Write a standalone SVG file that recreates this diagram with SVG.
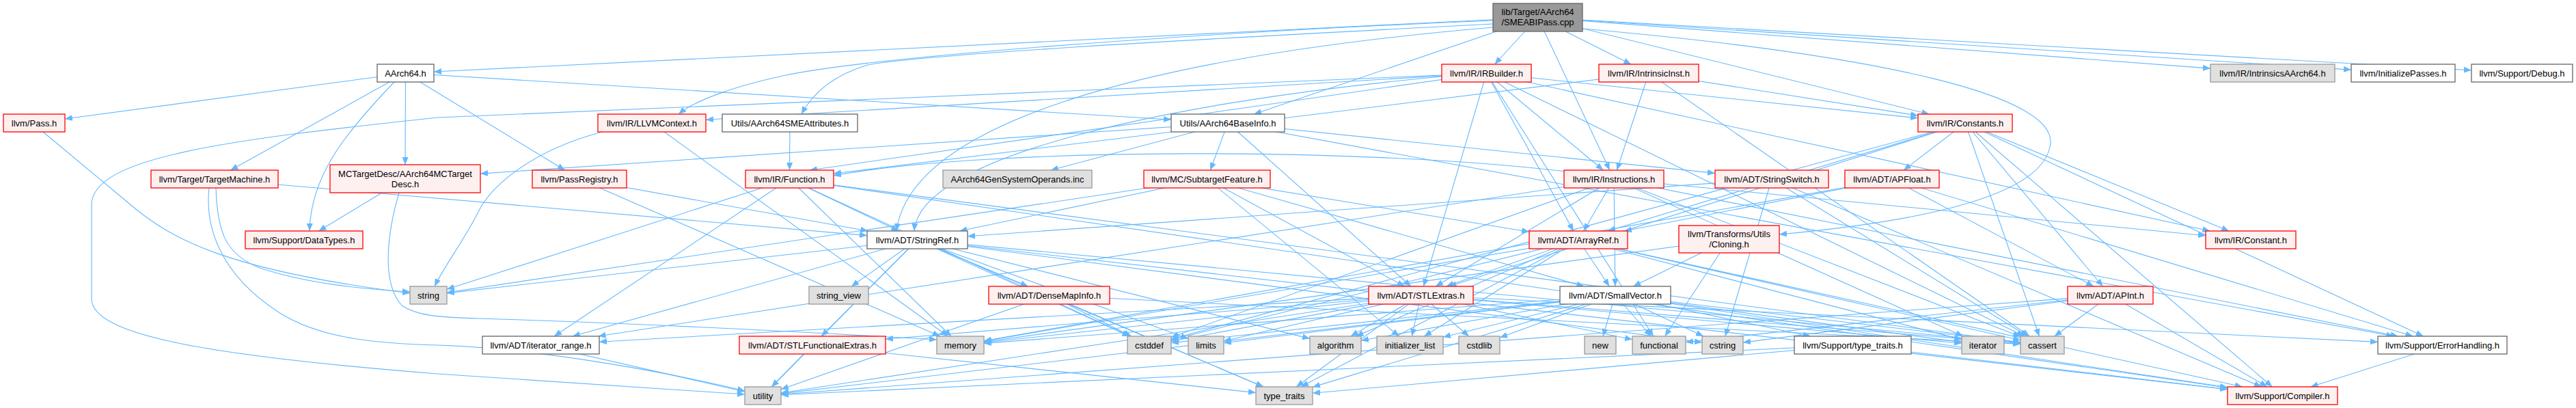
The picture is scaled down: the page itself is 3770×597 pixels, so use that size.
<svg xmlns="http://www.w3.org/2000/svg" width="3770" height="597" viewBox="0 0 3770 597">
<style>
.e path{fill:none;stroke:#63b8ff;stroke-width:1.1;marker-end:url(#ah)}
.n rect{stroke-width:1.3}
.red rect{fill:#fff0f0;stroke:#ff0000}
.wht rect{fill:#ffffff;stroke:#666666}
.gry rect{fill:#e0e0e0;stroke:#999999}
.root rect{fill:#999999;stroke:#666666}
text{font-family:"Liberation Sans",Arial,Helvetica,sans-serif;font-size:13px;fill:#000000;text-anchor:middle}
</style>
<defs>
<marker id="ah" viewBox="0 0 11 9" refX="11" refY="4.5" markerWidth="11" markerHeight="9" markerUnits="userSpaceOnUse" orient="auto"><path d="M0,0 L11,4.5 L0,9 z" fill="#63b8ff"/></marker>
</defs>
<rect width="3770" height="597" fill="#ffffff"/>
<g id="connectors" class="e">
<path d="M2250.5,25.5 L635,105"/>
<path d="M2250.5,25.5 L1835.2,167"/>
<path d="M2185,35 C1700,60 1350,80 1270,95 C1220,110 1190,135 1173,167"/>
<path d="M2185,40 C1600,90 1330,200 1312,338"/>
<path d="M2250.5,25.5 L2823.4,167"/>
<path d="M2250.5,25.5 L2187.5,94"/>
<path d="M2250.5,25.5 L2355.9,249"/>
<path d="M2250.5,25.5 L2387.1,94"/>
<path d="M2250.5,25.5 L3235,100.1"/>
<path d="M2185,30 C1700,50 1270,85 1150,110 C1080,125 1020,145 993,167"/>
<path d="M2250.5,25.5 L3441,102.1"/>
<path d="M2250.5,25.5 L3617,102.8"/>
<path d="M2316,42 C2750,80 3020,140 3000,215 C2985,290 2800,325 2604,343"/>
<path d="M593.5,107 L95,174"/>
<path d="M593.5,107 L337.4,249"/>
<path d="M577,120 C500,200 455,260 453,338"/>
<path d="M593.5,107 L593,241"/>
<path d="M593.5,107 L826.7,249"/>
<path d="M593.5,107 L1714,175"/>
<path d="M593,261.5 L466.5,338"/>
<path d="M584,282 C570,330 555,410 588,447 C610,462 640,464 700,466 C1000,475 1250,490 1371,497"/>
<path d="M1797,180 L703,254.1"/>
<path d="M1797,180 L1537.8,249"/>
<path d="M1797,180 L1771.3,249"/>
<path d="M1797,180 L2064.9,419"/>
<path d="M1797,180 L2510,253.4"/>
<path d="M1797,180 L3503.4,492"/>
<path d="M314,262 L1269,344.6"/>
<path d="M316,275 C318,340 330,372 380,392 C450,415 530,423 600,427"/>
<path d="M306,275 C300,330 320,400 408,457 C470,497 560,503 640,505 C800,510 1000,550 1090,572"/>
<path d="M63,193 L188,297 C250,350 330,395 600,429"/>
<path d="M848,262 L1270.3,338"/>
<path d="M848,262 L1375.7,492"/>
<path d="M881,193 C780,220 720,270 700,310 C680,350 650,390 636,419"/>
<path d="M954,180 L1387.4,492"/>
<path d="M1156,180 L1155.5,249"/>
<path d="M1155.5,262 L811,492"/>
<path d="M1155.5,262 L1315.2,338"/>
<path d="M1155.5,262 L654,423.3"/>
<path d="M1155.5,262 L1392.1,492"/>
<path d="M1155.5,262 L1653.8,492"/>
<path d="M1155.5,262 L2957,500.8"/>
<path d="M1155.5,262 L3260,567.3"/>
<path d="M1342.5,351 L1504.5,419"/>
<path d="M1342.5,351 L1202,492"/>
<path d="M1342.5,351 L838,492"/>
<path d="M1342.5,351 L3260,569.8"/>
<path d="M1342.5,351 L1917,495.6"/>
<path d="M1342.5,351 L2957,502"/>
<path d="M1342.5,351 L1653.3,492"/>
<path d="M1342.5,351 L2491,501.1"/>
<path d="M1342.5,351 L1739,495.5"/>
<path d="M1342.5,351 L654,428.9"/>
<path d="M1342.5,351 L1246,419"/>
<path d="M1342.5,351 L1848.9,566"/>
<path d="M1342.5,351 L1129.4,566"/>
<path d="M1535.5,432 L2957,503.4"/>
<path d="M1535.5,432 L1655.9,492"/>
<path d="M1535.5,432 L1849.1,566"/>
<path d="M1535.5,432 L1143,569.7"/>
<path d="M1189,505 L1838,574.6"/>
<path d="M1189,505 L1129.2,566"/>
<path d="M791.5,505 L1090,573"/>
<path d="M2079.5,432 L1296,496.2"/>
<path d="M2079.5,432 L877,500.2"/>
<path d="M2079.5,432 L3480,500.4"/>
<path d="M2079.5,432 L1976.8,492"/>
<path d="M2079.5,432 L2957,502.4"/>
<path d="M2079.5,432 L1714,499.1"/>
<path d="M2079.5,432 L2149.8,492"/>
<path d="M2079.5,432 L2389,496.8"/>
<path d="M2079.5,432 L2066.3,492"/>
<path d="M2079.5,432 L2871,502.2"/>
<path d="M2079.5,432 L1791,499"/>
<path d="M2079.5,432 L1440,501.3"/>
<path d="M2079.5,432 L1897.2,566"/>
<path d="M2079.5,432 L1143,575"/>
<path d="M2364,432 L3260,566.9"/>
<path d="M2364,432 L2649.6,492"/>
<path d="M2364,432 L1992,498.3"/>
<path d="M2364,432 L2957,501.3"/>
<path d="M2364,432 L1714,501.6"/>
<path d="M2364,432 L2195,494"/>
<path d="M2364,432 L2493,492"/>
<path d="M2364,432 L2416.6,492"/>
<path d="M2364,432 L2112,493.2"/>
<path d="M2364,432 L2871,500.8"/>
<path d="M2364,432 L1791,501.8"/>
<path d="M2364,432 L1440,502.4"/>
<path d="M2364,432 L2345.9,492"/>
<path d="M2364,432 L1921,566.4"/>
<path d="M2364,432 L1143,575.9"/>
<path d="M2310,351 L2355.3,419"/>
<path d="M2310,351 L2116.5,419"/>
<path d="M2310,351 L3281.7,566"/>
<path d="M2310,351 L1984.5,492"/>
<path d="M2310,351 L2957,497.7"/>
<path d="M2310,351 L1714,497.2"/>
<path d="M2310,351 L2084.3,492"/>
<path d="M2310,351 L2871,496.9"/>
<path d="M2310,351 L1440,499.1"/>
<path d="M2310,351 L1904,566"/>
<path d="M2711.5,505 L3260,569.5"/>
<path d="M2711.5,505 L1921,575.3"/>
<path d="M2711.5,505 L1143,577.8"/>
<path d="M3574.5,505 L3381.6,566"/>
<path d="M3088.5,432 L3318.2,566"/>
<path d="M3088.5,432 L3006.7,492"/>
<path d="M3088.5,432 L2551,501.1"/>
<path d="M3088.5,432 L2467,500.7"/>
<path d="M3088.5,432 L1143,577"/>
<path d="M2769,262 L3064.1,419"/>
<path d="M2769,262 L2377,338"/>
<path d="M2769,262 L3531.4,492"/>
<path d="M2769,262 L1440,498.9"/>
<path d="M2876,180 L2786,249"/>
<path d="M2876,180 L3077.5,419"/>
<path d="M2876,180 L2353,338"/>
<path d="M2876,180 L2120.6,419"/>
<path d="M2876,180 L3262.2,338"/>
<path d="M2876,180 L3325.4,566"/>
<path d="M2876,180 L3546.6,492"/>
<path d="M2876,180 L2984.5,492"/>
<path d="M2876,180 L1714,496.3"/>
<path d="M2593,262 L1416,345.8"/>
<path d="M2593,262 L3309.8,566"/>
<path d="M2593,262 L2967.8,492"/>
<path d="M2593,262 L2524.9,492"/>
<path d="M1766.5,262 L2238,339.2"/>
<path d="M1766.5,262 L2318.3,419"/>
<path d="M1766.5,262 L2055.6,419"/>
<path d="M1766.5,262 L1404.4,338"/>
<path d="M1766.5,262 L2047.6,492"/>
<path d="M1766.5,262 L654,428"/>
<path d="M2362,262 L2317.6,338"/>
<path d="M2362,262 L2101.1,419"/>
<path d="M2362,262 L2363.8,419"/>
<path d="M2362,262 L875.5,492"/>
<path d="M2362,262 L3228,344.7"/>
<path d="M2300,252 C2000,215 1450,215 1220,257"/>
<path d="M2362,262 L3509.6,492"/>
<path d="M2362,262 L2957,492.6"/>
<path d="M2362,262 L1714,493.6"/>
<path d="M2362,262 L2873.1,492"/>
<path d="M2413,107 L2807,169.1"/>
<path d="M2413,107 L1220,254"/>
<path d="M2413,107 L2366.3,249"/>
<path d="M2413,107 L2970.2,492"/>
<path d="M2175.5,107 L2302.8,338"/>
<path d="M2175.5,107 L2083.3,419"/>
<path d="M2110,112 C1700,150 1345,230 1338,338"/>
<path d="M2175.5,107 L3234.4,338"/>
<path d="M2175.5,107 L2807,172.8"/>
<path d="M2175.5,107 L1185,249"/>
<path d="M2175.5,107 L2346.4,249"/>
<path d="M2175.5,107 L1033,175.3"/>
<path d="M2175.5,107 L2962.4,492"/>
<path d="M2175.5,107 L2419.8,492"/>
<path d="M2110,110 L640,172 C330,205 134,230 134,300 L134,437 C134,490 300,520 640,547 L1090,577"/>
<path d="M2530.5,350 L2390.4,419"/>
<path d="M2530.5,350 L2436.6,492"/>
<path d="M2530.5,350 L1440,500.2"/>
</g>
<g id="n_root" class="n root"><rect x="2185" y="5" width="131" height="41"/><text x="2250.5" y="22">lib/Target/AArch64</text><text x="2250.5" y="37">/SMEABIPass.cpp</text></g>
<g id="n_aarch64" class="n wht"><rect x="552" y="94" width="83" height="26"/><text x="593.5" y="111.5">AArch64.h</text></g>
<g id="n_irbuilder" class="n red"><rect x="2110" y="94" width="131" height="26"/><text x="2175.5" y="111.5">llvm/IR/IRBuilder.h</text></g>
<g id="n_intrinsicinst" class="n red"><rect x="2340" y="94" width="146" height="26"/><text x="2413" y="111.5">llvm/IR/IntrinsicInst.h</text></g>
<g id="n_intrinsicsaarch64" class="n gry"><rect x="3235" y="94" width="182" height="26"/><text x="3326" y="111.5">llvm/IR/IntrinsicsAArch64.h</text></g>
<g id="n_initializepasses" class="n wht"><rect x="3441" y="94" width="152" height="26"/><text x="3517" y="111.5">llvm/InitializePasses.h</text></g>
<g id="n_debug" class="n wht"><rect x="3617" y="94" width="148" height="26"/><text x="3691" y="111.5">llvm/Support/Debug.h</text></g>
<g id="n_pass" class="n red"><rect x="5" y="167" width="90" height="26"/><text x="50" y="184.5">llvm/Pass.h</text></g>
<g id="n_llvmcontext" class="n red"><rect x="875" y="167" width="158" height="26"/><text x="954" y="184.5">llvm/IR/LLVMContext.h</text></g>
<g id="n_smeattributes" class="n wht"><rect x="1057" y="167" width="198" height="26"/><text x="1156" y="184.5">Utils/AArch64SMEAttributes.h</text></g>
<g id="n_baseinfo" class="n wht"><rect x="1714" y="167" width="166" height="26"/><text x="1797" y="184.5">Utils/AArch64BaseInfo.h</text></g>
<g id="n_constants" class="n red"><rect x="2807" y="167" width="138" height="26"/><text x="2876" y="184.5">llvm/IR/Constants.h</text></g>
<g id="n_targetmachine" class="n red"><rect x="221" y="249" width="186" height="26"/><text x="314" y="266.5">llvm/Target/TargetMachine.h</text></g>
<g id="n_mctargetdesc" class="n red"><rect x="483" y="241" width="220" height="41"/><text x="593" y="258.5">MCTargetDesc/AArch64MCTarget</text><text x="593" y="273.5">Desc.h</text></g>
<g id="n_passregistry" class="n red"><rect x="779" y="249" width="138" height="26"/><text x="848" y="266.5">llvm/PassRegistry.h</text></g>
<g id="n_function" class="n red"><rect x="1091" y="249" width="129" height="26"/><text x="1155.5" y="266.5">llvm/IR/Function.h</text></g>
<g id="n_gensysops" class="n gry"><rect x="1380" y="249" width="218" height="26"/><text x="1489" y="266.5">AArch64GenSystemOperands.inc</text></g>
<g id="n_subtargetfeature" class="n red"><rect x="1674" y="249" width="185" height="26"/><text x="1766.5" y="266.5">llvm/MC/SubtargetFeature.h</text></g>
<g id="n_instructions" class="n red"><rect x="2289" y="249" width="146" height="26"/><text x="2362" y="266.5">llvm/IR/Instructions.h</text></g>
<g id="n_stringswitch" class="n red"><rect x="2510" y="249" width="166" height="26"/><text x="2593" y="266.5">llvm/ADT/StringSwitch.h</text></g>
<g id="n_apfloat" class="n red"><rect x="2700" y="249" width="138" height="26"/><text x="2769" y="266.5">llvm/ADT/APFloat.h</text></g>
<g id="n_datatypes" class="n red"><rect x="359" y="338" width="172" height="26"/><text x="445" y="355.5">llvm/Support/DataTypes.h</text></g>
<g id="n_stringref" class="n wht"><rect x="1269" y="338" width="147" height="26"/><text x="1342.5" y="355.5">llvm/ADT/StringRef.h</text></g>
<g id="n_arrayref" class="n red"><rect x="2238" y="338" width="144" height="26"/><text x="2310" y="355.5">llvm/ADT/ArrayRef.h</text></g>
<g id="n_cloning" class="n red"><rect x="2457" y="330" width="147" height="40"/><text x="2530.5" y="347">llvm/Transforms/Utils</text><text x="2530.5" y="362">/Cloning.h</text></g>
<g id="n_constant" class="n red"><rect x="3228" y="338" width="132" height="26"/><text x="3294" y="355.5">llvm/IR/Constant.h</text></g>
<g id="n_string" class="n gry"><rect x="600" y="419" width="54" height="26"/><text x="627" y="436.5">string</text></g>
<g id="n_string_view" class="n gry"><rect x="1184" y="419" width="87" height="26"/><text x="1227.5" y="436.5">string_view</text></g>
<g id="n_densemapinfo" class="n red"><rect x="1447" y="419" width="177" height="26"/><text x="1535.5" y="436.5">llvm/ADT/DenseMapInfo.h</text></g>
<g id="n_stlextras" class="n red"><rect x="2003" y="419" width="153" height="26"/><text x="2079.5" y="436.5">llvm/ADT/STLExtras.h</text></g>
<g id="n_smallvector" class="n wht"><rect x="2283" y="419" width="162" height="26"/><text x="2364" y="436.5">llvm/ADT/SmallVector.h</text></g>
<g id="n_apint" class="n red"><rect x="3026" y="419" width="125" height="26"/><text x="3088.5" y="436.5">llvm/ADT/APInt.h</text></g>
<g id="n_iterator_range" class="n wht"><rect x="706" y="492" width="171" height="26"/><text x="791.5" y="509.5">llvm/ADT/iterator_range.h</text></g>
<g id="n_stlfunctionalextras" class="n red"><rect x="1082" y="492" width="214" height="26"/><text x="1189" y="509.5">llvm/ADT/STLFunctionalExtras.h</text></g>
<g id="n_memory" class="n gry"><rect x="1371" y="492" width="69" height="26"/><text x="1405.5" y="509.5">memory</text></g>
<g id="n_cstddef" class="n gry"><rect x="1650" y="492" width="64" height="26"/><text x="1682" y="509.5">cstddef</text></g>
<g id="n_limits" class="n gry"><rect x="1739" y="492" width="52" height="26"/><text x="1765" y="509.5">limits</text></g>
<g id="n_algorithm" class="n gry"><rect x="1917" y="492" width="75" height="26"/><text x="1954.5" y="509.5">algorithm</text></g>
<g id="n_initializer_list" class="n gry"><rect x="2015" y="492" width="97" height="26"/><text x="2063.5" y="509.5">initializer_list</text></g>
<g id="n_cstdlib" class="n gry"><rect x="2135" y="492" width="60" height="26"/><text x="2165" y="509.5">cstdlib</text></g>
<g id="n_new" class="n gry"><rect x="2319" y="492" width="46" height="26"/><text x="2342" y="509.5">new</text></g>
<g id="n_functional" class="n gry"><rect x="2389" y="492" width="78" height="26"/><text x="2428" y="509.5">functional</text></g>
<g id="n_cstring" class="n gry"><rect x="2491" y="492" width="60" height="26"/><text x="2521" y="509.5">cstring</text></g>
<g id="n_support_type_traits" class="n wht"><rect x="2626" y="492" width="171" height="26"/><text x="2711.5" y="509.5">llvm/Support/type_traits.h</text></g>
<g id="n_iterator" class="n gry"><rect x="2871" y="492" width="62" height="26"/><text x="2902" y="509.5">iterator</text></g>
<g id="n_cassert" class="n gry"><rect x="2957" y="492" width="64" height="26"/><text x="2989" y="509.5">cassert</text></g>
<g id="n_errorhandling" class="n wht"><rect x="3480" y="492" width="189" height="26"/><text x="3574.5" y="509.5">llvm/Support/ErrorHandling.h</text></g>
<g id="n_utility" class="n gry"><rect x="1090" y="566" width="53" height="26"/><text x="1116.5" y="583.5">utility</text></g>
<g id="n_type_traits" class="n gry"><rect x="1838" y="566" width="83" height="26"/><text x="1879.5" y="583.5">type_traits</text></g>
<g id="n_compiler" class="n red"><rect x="3260" y="566" width="161" height="26"/><text x="3340.5" y="583.5">llvm/Support/Compiler.h</text></g>
</svg>
